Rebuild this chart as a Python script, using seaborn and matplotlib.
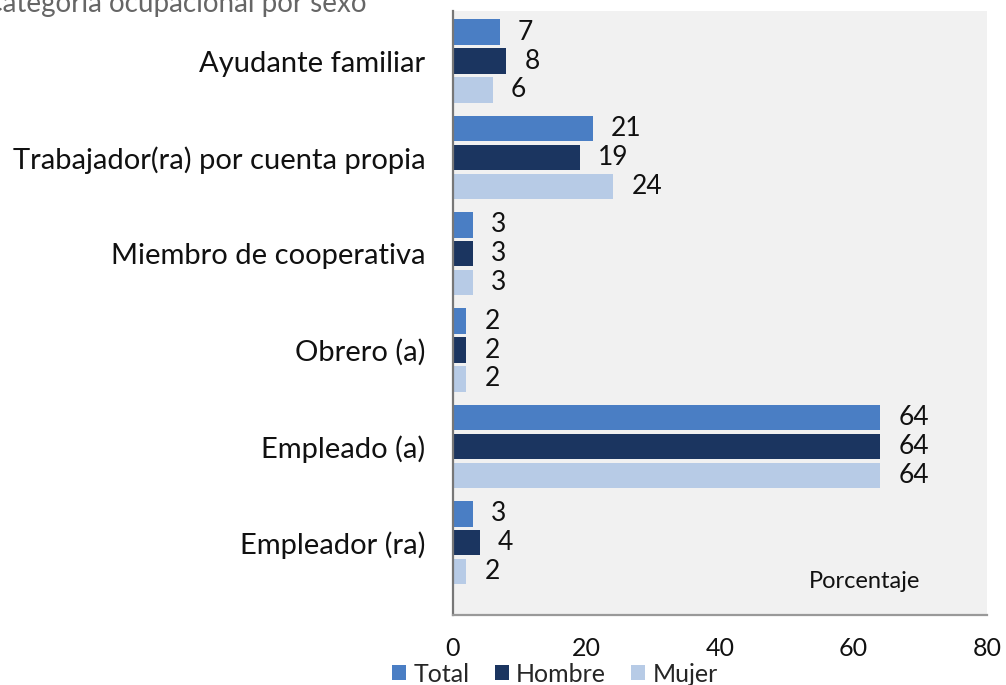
import pandas as pd
import numpy as np
import seaborn as sns
import matplotlib.pyplot as plt

# data
CATEGORIES = [
    "Ayudante familiar",
    "Trabajador(ra) por cuenta propia",
    "Miembro de cooperativa",
    "Obrero (a)",
    "Empleado (a)",
    "Empleador (ra)",
]
TOTAL = [7, 21, 3, 2, 64, 3]
HOMBRE = [8, 19, 3, 2, 64, 4]
MUJER = [6, 24, 3, 2, 64, 2]
SERIES = ["Total", "Hombre", "Mujer"]
X_TICKS = [0, 20, 40, 60, 80]

PALETTE = {"Total": "#4a7ec4", "Hombre": "#1b3560", "Mujer": "#b7cbe6"}

df = pd.DataFrame({
    "categoria": CATEGORIES * 3,
    "serie": ["Total"] * 6 + ["Hombre"] * 6 + ["Mujer"] * 6,
    "valor": TOTAL + HOMBRE + MUJER,
})

sns.set_style("white")
plt.rcParams["font.family"] = ["Lato", "DejaVu Sans"]

fig = plt.figure(figsize=(10.06, 6.85), dpi=100)
ax = fig.add_axes([453 / 1006, 1 - 615 / 685, (987 - 453) / 1006, (615 - 11) / 685])
ax.set_facecolor("#f1f1f1")

sns.barplot(
    data=df, x="valor", y="categoria", hue="serie",
    order=CATEGORIES, hue_order=SERIES, palette=PALETTE,
    width=0.9, gap=0.12, saturation=1, edgecolor="none",
    legend=True, ax=ax,
)

for cont in ax.containers:
    ax.bar_label(cont, padding=13, fontsize=19, color="#111111")

ax.set_xlim(0, 80)
ax.set_ylim(5.75, -0.52)
ax.set_xticks(X_TICKS)
ax.set_xlabel("")
ax.set_ylabel("")
ax.tick_params(axis="x", labelsize=18, pad=16, length=0, colors="#111111")
ax.tick_params(axis="y", labelsize=21, pad=20, length=0, colors="#111111")

for s in ["top", "right"]:
    ax.spines[s].set_visible(False)
ax.spines["left"].set_color("#777777")
ax.spines["left"].set_linewidth(1.6)
ax.spines["bottom"].set_color("#999999")
ax.spines["bottom"].set_linewidth(1.6)

ax.text(0.77, 0.055, "Porcentaje", transform=ax.transAxes,
        ha="center", va="center", fontsize=17, color="#111111")

ax.legend(
    loc="center", bbox_to_anchor=(555 / 1006, 1 - 674 / 685),
    bbox_transform=fig.transFigure, ncol=3, frameon=False,
    fontsize=18, handlelength=0.55, handleheight=0.55,
    handletextpad=0.3, columnspacing=1.0, borderpad=0.1,
)

# title partially cut at the top of the image
fig.text(-0.016, 1 - 12 / 685, "Categoría ocupacional por sexo",
         ha="left", va="baseline", fontsize=20, color="#666666")

fig.savefig("out.png", dpi=100)
